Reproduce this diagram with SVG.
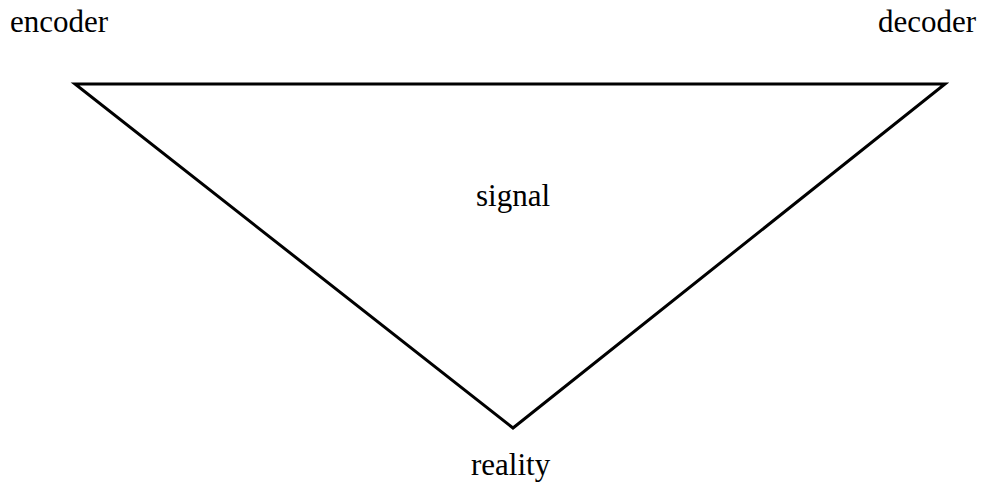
<svg xmlns="http://www.w3.org/2000/svg" width="984" height="486" viewBox="0 0 984 486">
<style>
text{font-family:'Liberation Serif',serif;font-size:31px;fill:#000}
.edge{fill:none;stroke:#000;stroke-width:3;stroke-linejoin:miter}
</style>
<rect width="984" height="486" fill="#fff"/>
<g id="connectors">
<polygon class="edge" points="75,84 945,84 513,428"/>
</g>
<g id="encoder"><text x="10" y="32">encoder</text></g>
<g id="decoder"><text x="878" y="32">decoder</text></g>
<g id="signal"><text x="476" y="206">signal</text></g>
<g id="reality"><text x="471" y="475">reality</text></g>
</svg>
